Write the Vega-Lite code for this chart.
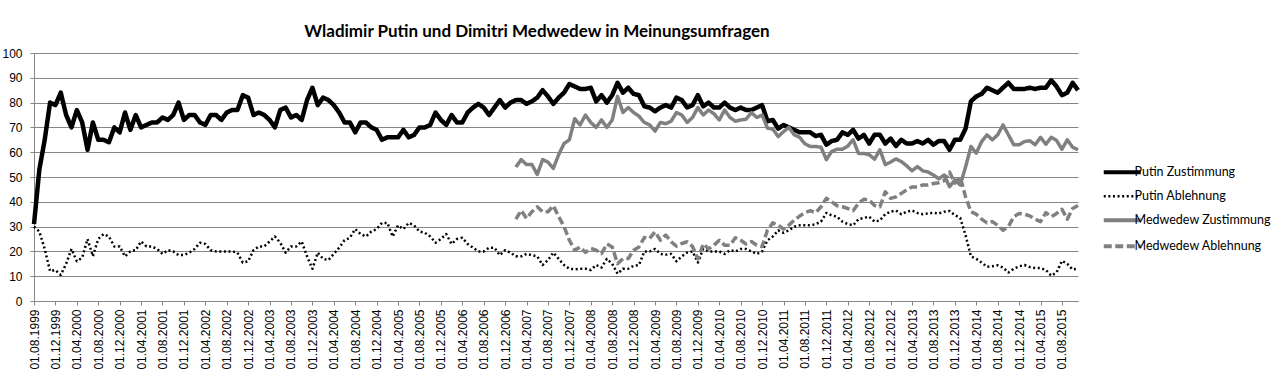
{
"$schema":"https://vega.github.io/schema/vega-lite/v6.json",
"autosize":{"type":"none"},
"width":1044,"height":248,
"padding":{"left":34,"top":53,"right":202,"bottom":72},
"background":"#ffffff",
"title":{"text":"Wladimir Putin und Dimitri Medwedew in Meinungsumfragen","font":"Lato","fontSize":17,"fontWeight":"bold","color":"#000000","anchor":"middle","dx":-19,"offset":6},
"data":{"values":[
{"m":"01.08.1999","pz":31,"pa":30},{"m":"01.09.1999","pz":53,"pa":28},{"m":"01.10.1999","pz":65,"pa":21},{"m":"01.11.1999","pz":80,"pa":12},{"m":"01.12.1999","pz":79,"pa":12.5},
{"m":"01.01.2000","pz":84,"pa":10.5},{"m":"01.02.2000","pz":75,"pa":15},{"m":"01.03.2000","pz":70,"pa":21},{"m":"01.04.2000","pz":77,"pa":16},{"m":"01.05.2000","pz":72,"pa":17.5},{"m":"01.06.2000","pz":61,"pa":25},{"m":"01.07.2000","pz":72,"pa":18},{"m":"01.08.2000","pz":65,"pa":25},{"m":"01.09.2000","pz":65,"pa":27},{"m":"01.10.2000","pz":64,"pa":26},{"m":"01.11.2000","pz":70,"pa":22},{"m":"01.12.2000","pz":68,"pa":22},
{"m":"01.01.2001","pz":76,"pa":18},{"m":"01.02.2001","pz":69,"pa":20},{"m":"01.03.2001","pz":75,"pa":20.5},{"m":"01.04.2001","pz":70,"pa":24},{"m":"01.05.2001","pz":71,"pa":22},{"m":"01.06.2001","pz":72,"pa":22},{"m":"01.07.2001","pz":72,"pa":21},{"m":"01.08.2001","pz":74,"pa":19},{"m":"01.09.2001","pz":73,"pa":20.5},{"m":"01.10.2001","pz":75,"pa":20},{"m":"01.11.2001","pz":80,"pa":18.5},{"m":"01.12.2001","pz":73,"pa":18.5},
{"m":"01.01.2002","pz":75,"pa":19.5},{"m":"01.02.2002","pz":75,"pa":21},{"m":"01.03.2002","pz":72,"pa":23.5},{"m":"01.04.2002","pz":71,"pa":23},{"m":"01.05.2002","pz":75,"pa":20.5},{"m":"01.06.2002","pz":75,"pa":20},{"m":"01.07.2002","pz":73,"pa":20},{"m":"01.08.2002","pz":76,"pa":20},{"m":"01.09.2002","pz":77,"pa":20},{"m":"01.10.2002","pz":77,"pa":19.5},{"m":"01.11.2002","pz":83,"pa":15.5},{"m":"01.12.2002","pz":82,"pa":16},
{"m":"01.01.2003","pz":75,"pa":20.5},{"m":"01.02.2003","pz":76,"pa":22},{"m":"01.03.2003","pz":75,"pa":22},{"m":"01.04.2003","pz":73,"pa":24},{"m":"01.05.2003","pz":70,"pa":26},{"m":"01.06.2003","pz":77,"pa":23.5},{"m":"01.07.2003","pz":78,"pa":19.5},{"m":"01.08.2003","pz":74,"pa":22},{"m":"01.09.2003","pz":75,"pa":22},{"m":"01.10.2003","pz":73,"pa":24},{"m":"01.11.2003","pz":81,"pa":18},{"m":"01.12.2003","pz":86,"pa":13},
{"m":"01.01.2004","pz":79,"pa":19.5},{"m":"01.02.2004","pz":82,"pa":17},{"m":"01.03.2004","pz":81,"pa":16.5},{"m":"01.04.2004","pz":79,"pa":19},{"m":"01.05.2004","pz":76,"pa":21.5},{"m":"01.06.2004","pz":72,"pa":24.5},{"m":"01.07.2004","pz":72,"pa":25.5},{"m":"01.08.2004","pz":68,"pa":29},{"m":"01.09.2004","pz":72,"pa":27},{"m":"01.10.2004","pz":72,"pa":26},{"m":"01.11.2004","pz":70,"pa":28},{"m":"01.12.2004","pz":69,"pa":29},
{"m":"01.01.2005","pz":65,"pa":31.5},{"m":"01.02.2005","pz":66,"pa":31.5},{"m":"01.03.2005","pz":66,"pa":26},{"m":"01.04.2005","pz":66,"pa":30.5},{"m":"01.05.2005","pz":69,"pa":29},{"m":"01.06.2005","pz":66,"pa":31.5},{"m":"01.07.2005","pz":67,"pa":30.5},{"m":"01.08.2005","pz":70,"pa":28},{"m":"01.09.2005","pz":70,"pa":27.5},{"m":"01.10.2005","pz":71,"pa":26},{"m":"01.11.2005","pz":76,"pa":23.5},{"m":"01.12.2005","pz":73,"pa":25},
{"m":"01.01.2006","pz":71,"pa":27},{"m":"01.02.2006","pz":75,"pa":23},{"m":"01.03.2006","pz":72,"pa":25},{"m":"01.04.2006","pz":72,"pa":25.5},{"m":"01.05.2006","pz":76,"pa":23},{"m":"01.06.2006","pz":78,"pa":21.5},{"m":"01.07.2006","pz":79.5,"pa":20},{"m":"01.08.2006","pz":78,"pa":20},{"m":"01.09.2006","pz":75,"pa":21.5},{"m":"01.10.2006","pz":78,"pa":21.5},{"m":"01.11.2006","pz":81,"pa":18.5},{"m":"01.12.2006","pz":78,"pa":20.5},
{"m":"01.01.2007","pz":80,"pa":19.5},{"m":"01.02.2007","pz":81,"pa":18,"mz":54,"ma":33},{"m":"01.03.2007","pz":81,"pa":18,"mz":57,"ma":36.5},{"m":"01.04.2007","pz":79.5,"pa":19,"mz":55,"ma":33.3},{"m":"01.05.2007","pz":80.5,"pa":18.5,"mz":55,"ma":36},{"m":"01.06.2007","pz":82,"pa":18,"mz":51,"ma":38},{"m":"01.07.2007","pz":85,"pa":14.5,"mz":57,"ma":36},{"m":"01.08.2007","pz":82.5,"pa":16.5,"mz":56,"ma":36},{"m":"01.09.2007","pz":79.5,"pa":19.5,"mz":53.5,"ma":38.4},{"m":"01.10.2007","pz":82,"pa":17,"mz":59,"ma":34},{"m":"01.11.2007","pz":84,"pa":14.5,"mz":63.5,"ma":30},{"m":"01.12.2007","pz":87.5,"pa":13,"mz":65,"ma":24.5},
{"m":"01.01.2008","pz":86.5,"pa":12.8,"mz":73.5,"ma":20.5},{"m":"01.02.2008","pz":85.5,"pa":13,"mz":71,"ma":21.8},{"m":"01.03.2008","pz":85.5,"pa":13,"mz":75,"ma":19.6},{"m":"01.04.2008","pz":86,"pa":12.5,"mz":72,"ma":21.2},{"m":"01.05.2008","pz":80.5,"pa":14.5,"mz":70,"ma":20.5},{"m":"01.06.2008","pz":83,"pa":13.5,"mz":73,"ma":19.1},{"m":"01.07.2008","pz":80,"pa":17,"mz":70,"ma":23},{"m":"01.08.2008","pz":83,"pa":15,"mz":73,"ma":21.8},{"m":"01.09.2008","pz":88,"pa":11,"mz":82.5,"ma":15},{"m":"01.10.2008","pz":84,"pa":13,"mz":76,"ma":17.1},{"m":"01.11.2008","pz":86,"pa":13,"mz":78,"ma":17.1},{"m":"01.12.2008","pz":83.5,"pa":14.2,"mz":76,"ma":20.5},
{"m":"01.01.2009","pz":83,"pa":14.5,"mz":74.5,"ma":21.8},{"m":"01.02.2009","pz":78.5,"pa":20,"mz":72,"ma":25.6},{"m":"01.03.2009","pz":78,"pa":20,"mz":71,"ma":25.2},{"m":"01.04.2009","pz":76.5,"pa":21,"mz":68.5,"ma":27.9},{"m":"01.05.2009","pz":78,"pa":19,"mz":72,"ma":24.5},{"m":"01.06.2009","pz":79,"pa":18.7,"mz":71.5,"ma":26.6},{"m":"01.07.2009","pz":78,"pa":19,"mz":72.5,"ma":23.9},{"m":"01.08.2009","pz":82,"pa":16,"mz":76,"ma":22.1},{"m":"01.09.2009","pz":81,"pa":18,"mz":75,"ma":23.2},{"m":"01.10.2009","pz":78,"pa":19.5,"mz":72,"ma":23.9},{"m":"01.11.2009","pz":79,"pa":20,"mz":74,"ma":22},{"m":"01.12.2009","pz":83,"pa":15.5,"mz":78,"ma":17},
{"m":"01.01.2010","pz":78.5,"pa":21,"mz":75,"ma":23},{"m":"01.02.2010","pz":80,"pa":20,"mz":77,"ma":21},{"m":"01.03.2010","pz":78,"pa":20,"mz":75.5,"ma":22.5},{"m":"01.04.2010","pz":78,"pa":20,"mz":73,"ma":24.5},{"m":"01.05.2010","pz":80,"pa":19,"mz":77,"ma":22.5},{"m":"01.06.2010","pz":78,"pa":20.5,"mz":74,"ma":22.5},{"m":"01.07.2010","pz":77,"pa":20,"mz":72.5,"ma":25.5},{"m":"01.08.2010","pz":78,"pa":21,"mz":73,"ma":24.5},{"m":"01.09.2010","pz":77,"pa":21,"mz":73.3,"ma":23},{"m":"01.10.2010","pz":77,"pa":20,"mz":76,"ma":24},{"m":"01.11.2010","pz":78,"pa":19,"mz":74,"ma":22.5},{"m":"01.12.2010","pz":79,"pa":20,"mz":75,"ma":22},
{"m":"01.01.2011","pz":72.5,"pa":24.5,"mz":69.7,"ma":28.6},{"m":"01.02.2011","pz":73,"pa":26,"mz":69.3,"ma":31.5},{"m":"01.03.2011","pz":69.5,"pa":28.5,"mz":66.3,"ma":30.6},{"m":"01.04.2011","pz":71,"pa":27.5,"mz":68.3,"ma":29},{"m":"01.05.2011","pz":70,"pa":28.5,"mz":70,"ma":30.6},{"m":"01.06.2011","pz":69,"pa":30,"mz":67,"ma":32.6},{"m":"01.07.2011","pz":68,"pa":30.5,"mz":66,"ma":34.2},{"m":"01.08.2011","pz":68,"pa":30.5,"mz":63.4,"ma":35.7},{"m":"01.09.2011","pz":68,"pa":30.5,"mz":62.3,"ma":36.4},{"m":"01.10.2011","pz":66.5,"pa":31,"mz":62.3,"ma":35.6},{"m":"01.11.2011","pz":67,"pa":32,"mz":62,"ma":38},{"m":"01.12.2011","pz":63,"pa":35.5,"mz":57,"ma":41.4},
{"m":"01.01.2012","pz":64.5,"pa":34.5,"mz":60.3,"ma":40},{"m":"01.02.2012","pz":65,"pa":34,"mz":61.2,"ma":38.4},{"m":"01.03.2012","pz":68,"pa":32,"mz":61.2,"ma":38},{"m":"01.04.2012","pz":67,"pa":31,"mz":62.5,"ma":37.3},{"m":"01.05.2012","pz":69,"pa":30.5,"mz":65,"ma":36.4},{"m":"01.06.2012","pz":65.5,"pa":33,"mz":59.5,"ma":39.4},{"m":"01.07.2012","pz":67,"pa":33.5,"mz":59.5,"ma":41},{"m":"01.08.2012","pz":63.5,"pa":34,"mz":59,"ma":40.7},{"m":"01.09.2012","pz":67,"pa":32,"mz":57.2,"ma":38.5},{"m":"01.10.2012","pz":67,"pa":32.5,"mz":61,"ma":38},{"m":"01.11.2012","pz":63.5,"pa":35,"mz":55,"ma":44},{"m":"01.12.2012","pz":65.5,"pa":36,"mz":56,"ma":41.4},
{"m":"01.01.2013","pz":62.5,"pa":36.5,"mz":57.3,"ma":42},{"m":"01.02.2013","pz":65,"pa":35,"mz":56.2,"ma":43.4},{"m":"01.03.2013","pz":63.5,"pa":36,"mz":54.5,"ma":44.8},{"m":"01.04.2013","pz":63.5,"pa":36.5,"mz":52.5,"ma":46},{"m":"01.05.2013","pz":64.5,"pa":35.5,"mz":54.2,"ma":46},{"m":"01.06.2013","pz":63.5,"pa":35,"mz":52.5,"ma":46.8},{"m":"01.07.2013","pz":65,"pa":35.3,"mz":52,"ma":46.8},{"m":"01.08.2013","pz":63,"pa":35.6,"mz":50.8,"ma":47.4},{"m":"01.09.2013","pz":64.5,"pa":35.3,"mz":49.3,"ma":47.7},{"m":"01.10.2013","pz":64.5,"pa":36,"mz":50.8,"ma":48.5},{"m":"01.11.2013","pz":61,"pa":36.3,"mz":46.1,"ma":52},{"m":"01.12.2013","pz":65,"pa":34.6,"mz":48.8,"ma":47.5},
{"m":"01.01.2014","pz":65,"pa":33.5,"mz":46.8,"ma":50},{"m":"01.02.2014","pz":69.5,"pa":26.5,"mz":54,"ma":42},{"m":"01.03.2014","pz":80.5,"pa":18,"mz":62.3,"ma":36},{"m":"01.04.2014","pz":82.5,"pa":17,"mz":59.6,"ma":35},{"m":"01.05.2014","pz":83.5,"pa":15.5,"mz":64.3,"ma":33},{"m":"01.06.2014","pz":86,"pa":13.8,"mz":67,"ma":31.5},{"m":"01.07.2014","pz":85,"pa":14,"mz":65,"ma":32},{"m":"01.08.2014","pz":84,"pa":14.4,"mz":67,"ma":30.5},{"m":"01.09.2014","pz":86,"pa":13.5,"mz":71,"ma":28.5},{"m":"01.10.2014","pz":88,"pa":11.5,"mz":67,"ma":30},{"m":"01.11.2014","pz":85.5,"pa":13,"mz":63,"ma":34},{"m":"01.12.2014","pz":85.5,"pa":14,"mz":63,"ma":35.3},
{"m":"01.01.2015","pz":85.5,"pa":14.5,"mz":64.3,"ma":35},{"m":"01.02.2015","pz":86,"pa":13.7,"mz":64.6,"ma":34.3},{"m":"01.03.2015","pz":85.5,"pa":13.3,"mz":63,"ma":33},{"m":"01.04.2015","pz":86,"pa":13.3,"mz":66,"ma":32},{"m":"01.05.2015","pz":86,"pa":12.5,"mz":63.2,"ma":35.6},{"m":"01.06.2015","pz":89,"pa":10.2,"mz":66,"ma":34},{"m":"01.07.2015","pz":86.5,"pa":11.5,"mz":64.7,"ma":35.3},{"m":"01.08.2015","pz":83,"pa":16.2,"mz":61.2,"ma":37},{"m":"01.09.2015","pz":84,"pa":15,"mz":65,"ma":33},{"m":"01.10.2015","pz":88,"pa":12.7,"mz":62,"ma":37.3},{"m":"01.11.2015","pz":85,"pa":13,"mz":61,"ma":38.5}
]},
"transform":[{"fold":["pz","pa","mz","ma"],"as":["key","v"]}],
"mark":{"type":"line","strokeJoin":"round","interpolate":"linear"},
"encoding":{
"x":{"field":"m","type":"ordinal","sort":null,"scale":{"type":"point","padding":0},
"axis":{"title":null,"labelAngle":-90,"labelFont":"Liberation Sans","labelFontSize":12,"labelColor":"#000000","labelOverlap":false,"labelPadding":4,"tickSize":4,"tickColor":"#868686","domainColor":"#868686","grid":false,
"values":["01.08.1999","01.12.1999","01.04.2000","01.08.2000","01.12.2000","01.04.2001","01.08.2001","01.12.2001","01.04.2002","01.08.2002","01.12.2002","01.04.2003","01.08.2003","01.12.2003","01.04.2004","01.08.2004","01.12.2004","01.04.2005","01.08.2005","01.12.2005","01.04.2006","01.08.2006","01.12.2006","01.04.2007","01.08.2007","01.12.2007","01.04.2008","01.08.2008","01.12.2008","01.04.2009","01.08.2009","01.12.2009","01.04.2010","01.08.2010","01.12.2010","01.04.2011","01.08.2011","01.12.2011","01.04.2012","01.08.2012","01.12.2012","01.04.2013","01.08.2013","01.12.2013","01.04.2014","01.08.2014","01.12.2014","01.04.2015","01.08.2015"]}},
"y":{"field":"v","type":"quantitative","scale":{"domain":[0,100],"nice":false,"zero":true},
"axis":{"title":null,"values":[0,10,20,30,40,50,60,70,80,90,100],"labelFont":"Liberation Sans","labelFontSize":12,"labelColor":"#000000","labelPadding":8,"tickSize":4,"tickColor":"#868686","domainColor":"#868686","grid":true,"gridColor":"#868686","gridWidth":1}},
"color":{"field":"key","type":"nominal","scale":{"domain":["pz","pa","mz","ma"],"range":["#000000","#000000","#808080","#808080"]},
"legend":{"title":null,"orient":"none","legendX":1082,"legendY":113,"symbolType":"stroke","symbolSize":1369,"labelFont":"Lato","labelFontSize":12.5,"labelColor":"#000000","labelOffset":6,"rowPadding":9,"labelLimit":0,
"labelExpr":"datum.label == 'pz' ? 'Putin Zustimmung' : datum.label == 'pa' ? 'Putin Ablehnung' : datum.label == 'mz' ? 'Medwedew Zustimmung' : 'Medwedew Ablehnung'",
"encode":{"symbols":{"update":{"strokeWidth":{"signal":"datum.value == 'pa' ? 2.5 : 4"}}}}}},
"strokeDash":{"field":"key","type":"nominal","scale":{"domain":["pz","pa","mz","ma"],"range":[[1,0],[2,2.6],[1,0],[8,3.5]]},"legend":{"title":null,"orient":"none","legendX":1082,"legendY":113,"labelLimit":0}},
"strokeWidth":{"condition":[{"test":"datum.key == 'pa'","value":2.5},{"test":"datum.key == 'pz'","value":4.5}],"value":3.5}
},
"config":{"view":{"stroke":null},"axis":{"labelFont":"Liberation Sans"}}
}
